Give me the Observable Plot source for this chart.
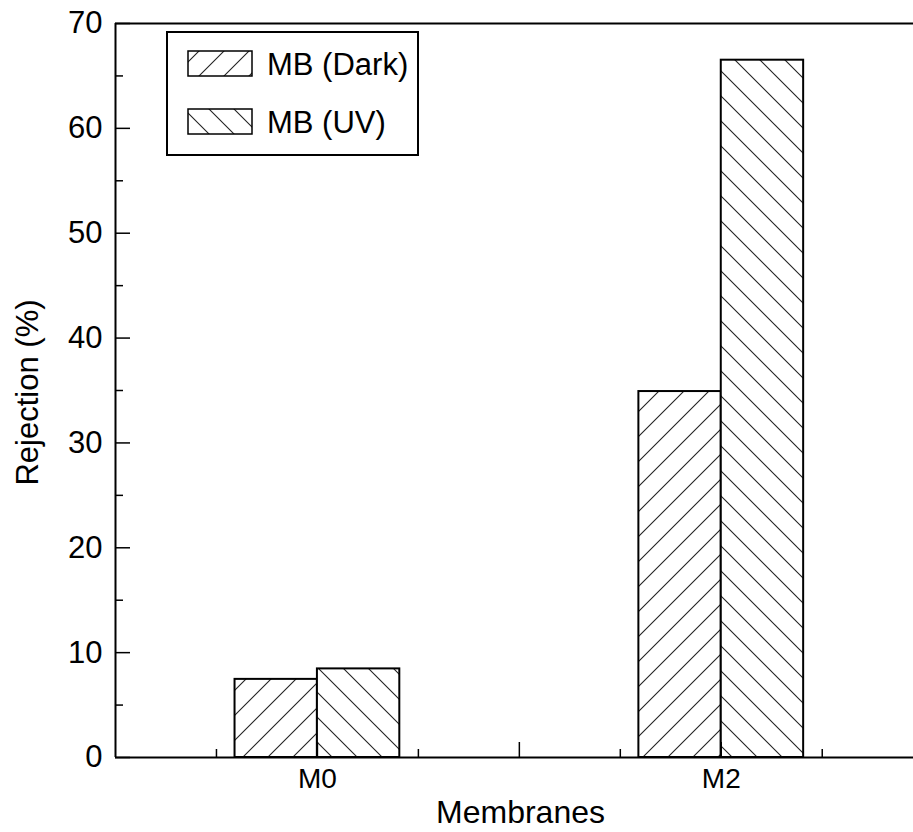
<!DOCTYPE html>
<html>
<head>
<meta charset="utf-8">
<script src="https://cdn.jsdelivr.net/npm/d3@7"></script>
<script src="https://cdn.jsdelivr.net/npm/@observablehq/plot@0.6"></script>
<style>
  html, body { margin: 0; padding: 0; background: #fff; }
  #chart svg { display: block; font-family: "Liberation Sans", Arial, Helvetica, sans-serif; }
</style>
</head>
<body>
<div id="chart"></div>
<script>
// ---- data ----
const categories = ["M0", "M2"];
const seriesNames = ["MB (Dark)", "MB (UV)"];
const darkValues = [7.45, 34.9];
const uvValues = [8.45, 66.5];
const yTickLabels = [0, 10, 20, 30, 40, 50, 60, 70];
const yMinorTicks = [5, 15, 25, 35, 45, 55, 65];
const xAxisTitle = "Membranes";
const yAxisTitle = "Rejection (%)";

// ---- layout ----
const W = 913, H = 832;
const mL = 115, mT = 23, mB = 75, mR = 0;
const plotW = W - mL - mR, plotH = H - mT - mB;
const barW = 0.204;
const xDomain = [0.5, 2.476];
const font = '"Liberation Sans", Arial, Helvetica, sans-serif';

const rows = [];
categories.forEach((c, i) => {
  rows.push({cat: c, pos: i + 1, series: seriesNames[0], value: darkValues[i]});
  rows.push({cat: c, pos: i + 1, series: seriesNames[1], value: uvValues[i]});
});
const darkRows = rows.filter(d => d.series === seriesNames[0]);
const uvRows = rows.filter(d => d.series === seriesNames[1]);

const catPositions = categories.map((c, i) => i + 1);
const xMajor = [1, 1.5, 2];
const xMinor = [0.75, 1.25, 1.75, 2.25];

const chart = Plot.plot({
  width: W,
  height: H,
  marginLeft: mL,
  marginRight: mR,
  marginTop: mT,
  marginBottom: mB,
  x: {type: "linear", domain: xDomain, label: null},
  y: {domain: [0, 70], label: null},
  style: {fontFamily: font, background: "#fff", color: "#000"},
  marks: [
    Plot.rectY(darkRows, {x1: d => d.pos - barW, x2: d => d.pos, y: "value",
      fill: "url(#hatchDark)", stroke: "#000", strokeWidth: 2}),
    Plot.rectY(uvRows, {x1: d => d.pos, x2: d => d.pos + barW, y: "value",
      fill: "url(#hatchUV)", stroke: "#000", strokeWidth: 2}),
    // y ticks (inward)
    Plot.tickY(yTickLabels, {y: d => d, insetRight: plotW - 15, stroke: "#000", strokeWidth: 1.5}),
    Plot.tickY(yMinorTicks, {y: d => d, insetRight: plotW - 8, stroke: "#000", strokeWidth: 1.5}),
    // x ticks (inward)
    Plot.tickX(xMajor, {x: d => d, insetTop: plotH - 15, stroke: "#000", strokeWidth: 1.5}),
    Plot.tickX(xMinor, {x: d => d, insetTop: plotH - 8, stroke: "#000", strokeWidth: 1.5}),
    // frame lines: left, bottom, top
    Plot.ruleX([xDomain[0]], {stroke: "#000", strokeWidth: 2}),
    Plot.ruleY([0], {stroke: "#000", strokeWidth: 2}),
    Plot.ruleY([70], {stroke: "#000", strokeWidth: 2}),
    Plot.axisY({ticks: yTickLabels, tickSize: 0, tickPadding: 13, fontSize: 31, label: null}),
    Plot.axisX({ticks: catPositions, tickFormat: d => categories[d - 1], tickSize: 0, tickPadding: 11, fontSize: 28, label: null}),
    Plot.text([xAxisTitle], {text: d => d, frameAnchor: "bottom", textAnchor: "middle", dx: 6, dy: 55, fontSize: 32, lineAnchor: "middle"}),
    Plot.text([yAxisTitle], {text: d => d, frameAnchor: "left", textAnchor: "middle", dx: -87, dy: 2, rotate: -90, fontSize: 31, lineAnchor: "middle"})
  ]
});

document.getElementById("chart").appendChild(chart);

// ---- hatch patterns & legend ----
const svg = d3.select(chart);
const defs = svg.insert("defs", ":first-child");
const sp = 25;
const pDark = defs.append("pattern").attr("id", "hatchDark")
  .attr("patternUnits", "userSpaceOnUse").attr("width", sp).attr("height", sp);
pDark.append("rect").attr("width", sp).attr("height", sp).attr("fill", "#fff");
pDark.append("path").attr("d", `M0,${sp} L${sp},0 M-5,5 L5,-5 M${sp - 5},${sp + 5} L${sp + 5},${sp - 5}`)
  .attr("stroke", "#222").attr("stroke-width", 1.1);
const pUV = defs.append("pattern").attr("id", "hatchUV")
  .attr("patternUnits", "userSpaceOnUse").attr("width", sp).attr("height", sp);
pUV.append("rect").attr("width", sp).attr("height", sp).attr("fill", "#fff");
pUV.append("path").attr("d", `M0,0 L${sp},${sp} M-5,${sp - 5} L5,${sp + 5} M${sp - 5},-5 L${sp + 5},5`)
  .attr("stroke", "#222").attr("stroke-width", 1.1);

const legend = svg.append("g").attr("class", "legend");
legend.append("rect").attr("x", 167).attr("y", 32).attr("width", 251).attr("height", 123)
  .attr("fill", "#fff").attr("stroke", "#000").attr("stroke-width", 2);
const legendItems = [
  {name: seriesNames[0], fill: "url(#hatchDark)", y: 51},
  {name: seriesNames[1], fill: "url(#hatchUV)", y: 109}
];
legendItems.forEach(it => {
  legend.append("rect").attr("x", 188).attr("y", it.y).attr("width", 64).attr("height", 25)
    .attr("fill", it.fill).attr("stroke", "#000").attr("stroke-width", 1.5);
  legend.append("text").attr("x", 267).attr("y", it.y + 24)
    .attr("text-anchor", "start")
    .style("font-size", "31px").style("font-family", font).attr("fill", "#000").text(it.name);
});
</script>
</body>
</html>
